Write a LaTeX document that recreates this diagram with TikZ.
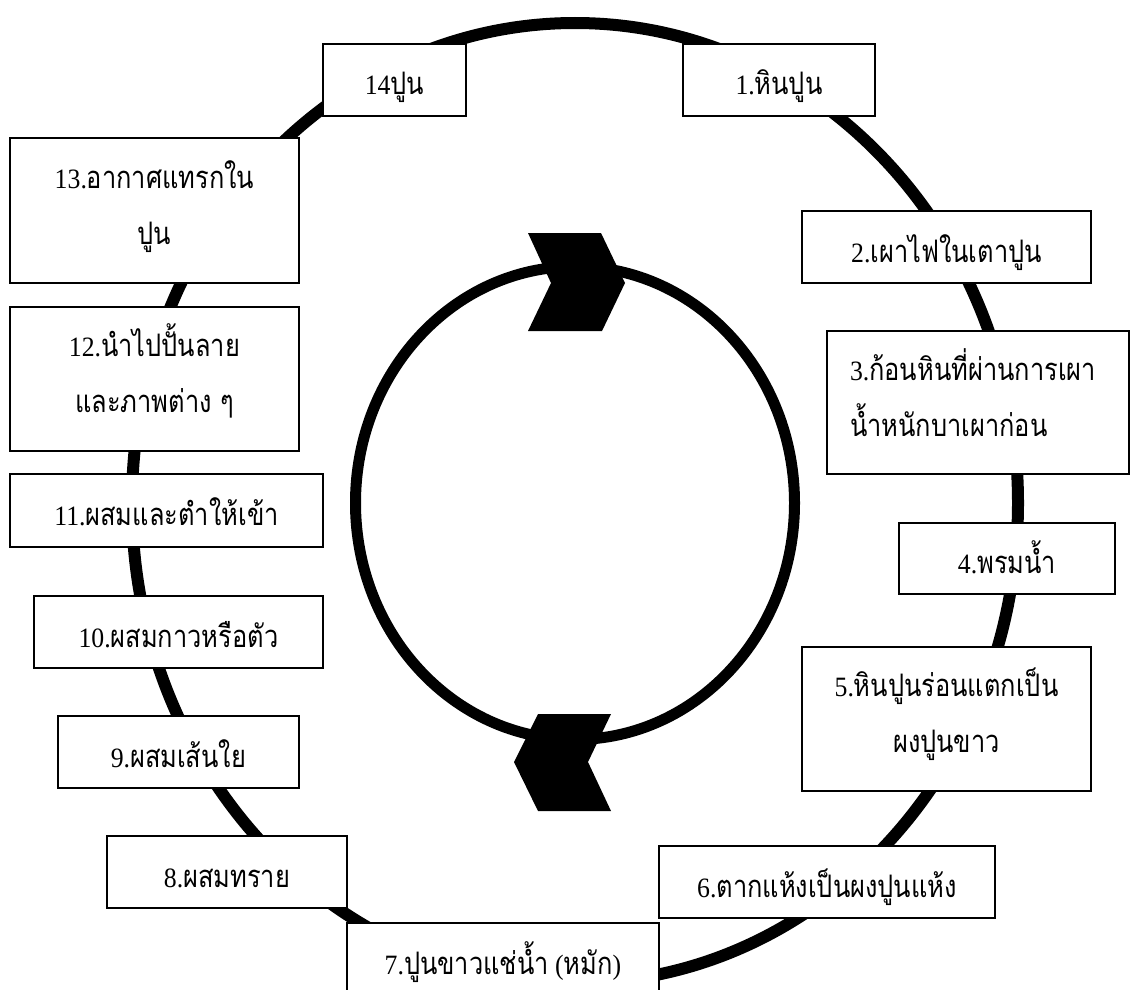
\documentclass[tikz,border=0pt]{standalone}
\usepackage{fontspec}
\setmainfont[FakeStretch=0.92]{Liberation Serif}
\newfontfamily\thaifont[Script=Thai, FakeStretch=0.82]{Loma}
\newcommand\thx[1]{{\thaifont\fontsize{31}{34}\selectfont #1}}
\newcommand\sline{\rule[-10pt]{0pt}{50pt}}
\newcommand\dline{\rule[-22.5pt]{0pt}{56pt}}
\begin{document}
\begin{tikzpicture}[x=1pt,y=-1pt,
  ring/.style={line width=12pt},
  box/.style={draw, line width=1.6pt, fill=white, inner sep=0pt, font=\fontsize{28}{32}\selectfont},
  chev/.style={fill=black}]
\useasboundingbox (0,0) rectangle (1130,990);
\clip (0,0) rectangle (1130,990);
% outer cycle and inner ring
\draw[ring] (575,503) ellipse [x radius=443pt, y radius=480pt];
\draw[ring, line width=11pt] (575,503) ellipse [x radius=219.5pt, y radius=236.5pt];
\fill[chev] (528,233) -- (601,233) -- (625,283) -- (602,331) -- (528,331) -- (551,283) -- cycle;
\fill[chev] (538,714) -- (611,714) -- (588,762) -- (611,811) -- (538,811) -- (514,762) -- cycle;
% boxes
\node[box, minimum width=192pt, minimum height=72pt] (b1) at (779,80) {\sline 1.\thx{หินปูน}};
\node[box, minimum width=289pt, minimum height=72pt] (b2) at (946.5,247) {\sline 2.\thx{เผาไฟในเตาปูน}};
\node[box, minimum width=302pt, minimum height=143pt] (b3) at (978,402.5) {\makebox[256pt][l]{\begin{tabular}{@{}l@{}}\dline 3.\thx{ก้อนหินที่ผ่านการเผา}\\ \dline \thx{น้ำหนักบาเผาก่อน}\end{tabular}}};
\node[box, minimum width=216pt, minimum height=71pt] (b4) at (1007,558.5) {\sline 4.\thx{พรมน้ำ}};
\node[box, minimum width=289pt, minimum height=144pt] (b5) at (946.5,719) {\begin{tabular}{@{}c@{}}\dline 5.\thx{หินปูนร่อนแตกเป็น}\\ \dline \thx{ผงปูนขาว}\end{tabular}};
\node[box, minimum width=336pt, minimum height=72pt] (b6) at (827,882) {\sline 6.\thx{ตากแห้งเป็นผงปูนแห้ง}};
\node[box, minimum width=312pt, minimum height=72pt] (b7) at (503,959) {\sline 7.\thx{ปูนขาวแช่น้ำ} (\thx{หมัก})};
\node[box, minimum width=240pt, minimum height=72pt] (b8) at (227,872) {\sline 8.\thx{ผสมทราย}};
\node[box, minimum width=241pt, minimum height=72pt] (b9) at (178.5,752) {\sline 9.\thx{ผสมเส้นใย}};
\node[box, minimum width=289pt, minimum height=72pt] (b10) at (178.5,632) {\sline 10.\thx{ผสมกาวหรือตัว}};
\node[box, minimum width=313pt, minimum height=73pt] (b11) at (166.5,510.5) {\sline 11.\thx{ผสมและตำให้เข้า}};
\node[box, minimum width=289pt, minimum height=144pt] (b12) at (154.5,379) {\begin{tabular}{@{}c@{}}\dline 12.\thx{นำไปปั้นลาย}\\ \dline \thx{และภาพต่าง ๆ}\end{tabular}};
\node[box, minimum width=289pt, minimum height=145pt] (b13) at (154.5,210.5) {\begin{tabular}{@{}c@{}}\dline 13.\thx{อากาศแทรกใน}\\ \dline \thx{ปูน}\end{tabular}};
\node[box, minimum width=143pt, minimum height=72pt] (b14) at (394.5,80) {\sline 14\thx{ปูน}};
\end{tikzpicture}
\end{document}
